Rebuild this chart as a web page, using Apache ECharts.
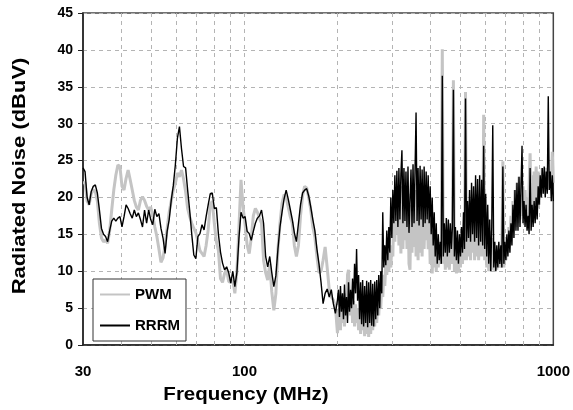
<!DOCTYPE html>
<html>
<head>
<meta charset="utf-8">
<script src="https://cdn.jsdelivr.net/npm/echarts@6/dist/echarts.min.js"></script>
<style>
  html, body { margin: 0; padding: 0; background: #fff; }
  #chart { width: 573px; height: 410px; }
</style>
</head>
<body>
<div id="chart"></div>
<script>
// receiver sweep is log spaced, finer above 200 MHz
const bandEdges = [30, 200, 300, 1000];
const xTickLabels = [30, 100, 1000];
const gridFreqs = [40, 50, 60, 70, 80, 90, 100, 200, 300, 400, 500, 600, 700, 800, 900];

// PWM (grey), dBuV
const pwmBand1 = [
  22.0, 22.0, 19.5, 19.0, 20.5, 21.0, 20.8, 19.5, 16.5, 14.5,
  14.0, 14.2, 13.8, 15.5, 18.3, 21.0, 23.0, 24.4, 24.2, 21.5,
  21.0, 22.6, 23.7, 22.4, 21.0, 19.6, 18.7, 18.3, 19.6, 20.1,
  19.6, 18.8, 18.3, 18.7, 17.5, 16.0, 14.7, 13.0, 11.2, 11.8,
  13.5, 15.8, 18.0, 19.5, 21.0, 21.9, 23.3, 22.8, 23.7, 22.5,
  20.8, 18.5, 17.4, 16.5, 15.8, 15.2, 14.0, 12.8, 12.4, 12.0,
  13.5, 15.6, 19.0, 19.5, 16.5, 14.0, 12.8, 9.0, 8.5, 9.7,
  10.2, 8.6, 8.5, 8.8, 7.0, 10.0, 16.0, 22.4, 18.7, 16.3,
  13.5, 12.4, 14.5, 17.5, 18.5, 18.0, 17.2, 16.5, 11.5, 9.8,
  8.8, 11.0, 7.2, 4.7, 7.0, 13.0, 16.5, 19.2, 20.4, 20.0,
  18.7, 17.4, 16.5, 13.5, 12.0, 13.5, 17.5, 20.2, 21.5, 21.3,
  20.0, 18.3, 16.0, 14.6, 12.0, 9.8, 10.0, 11.5, 13.3, 10.5,
  7.5, 6.5, 6.1, 5.2, 1.6
];
const pwmBand2 = [
  3.5, 5.0, 2.0, 6.0, 3.0, 5.5, 2.5, 7.0, 4.0, 9.5,
  10.2, 6.5, 4.0, 6.5, 3.0, 6.0, 2.5, 5.5, 3.0, 5.0,
  2.0, 4.5, 1.5, 4.8, 2.0, 4.5, 1.2, 4.7, 1.5, 4.0,
  1.1, 4.5, 1.5, 5.0, 2.0, 4.5, 2.5, 5.5, 3.0, 6.0,
  4.0, 7.0, 5.0, 8.0, 6.5, 9.5, 8.0, 11.0, 9.5, 12.0,
  10.0, 12.5, 10.5, 13.5
];
const pwmBand3 = [
  12.0, 19.0, 14.0, 20.5, 15.0, 21.0, 13.5, 20.0, 12.4, 21.5,
  13.0, 20.0, 14.2, 19.5, 13.0, 20.5, 11.0, 10.2, 19.0, 12.5,
  20.5, 13.3, 21.0, 12.0, 20.0, 11.5, 20.5, 12.5, 19.5, 12.0,
  20.0, 13.0, 19.0, 14.2, 18.5, 13.0, 17.0, 11.0, 15.5, 9.7,
  14.5, 10.5, 13.5, 10.0, 13.0, 10.5, 13.5, 11.0, 13.0, 40.1,
  11.0, 15.0, 10.2, 15.5, 10.5, 14.5, 10.2, 15.0, 11.0, 14.0,
  35.9, 10.0, 14.5, 9.7, 13.5, 9.8, 13.0, 10.5, 14.0, 11.0,
  16.0, 11.5, 34.3, 11.5, 17.5, 12.0, 19.0, 11.5, 19.5, 12.5,
  20.0, 11.5, 20.0, 12.0, 19.5, 11.5, 20.0, 12.0, 19.0, 12.0,
  31.2, 11.5, 18.0, 10.5, 17.0, 10.0, 15.5, 10.0, 14.5, 10.2,
  13.5, 10.0, 13.0, 10.2, 12.5, 10.5, 13.0, 10.5, 12.5, 24.9,
  10.5, 13.5, 11.5, 14.5, 12.5, 16.0, 13.5, 17.5, 14.5, 19.5,
  15.5, 21.0, 16.0, 22.0, 16.5, 22.8, 17.0, 22.0, 17.5, 21.5,
  18.0, 21.0, 17.5, 20.0, 17.0, 21.5, 26.0, 18.0, 23.0, 18.5,
  23.5, 19.0, 24.2, 18.5, 23.5, 19.0, 23.0, 20.0, 24.0, 20.5,
  23.5, 21.0, 24.0, 21.0, 23.0, 21.5, 23.5, 22.0, 26.2, 22.0
];

// RRRM (black), dBuV
const rrrmBand1 = [
  24.0, 23.5, 20.0, 19.0, 20.8, 21.5, 21.7, 20.6, 18.3, 15.8,
  15.0, 14.7, 14.0, 15.5, 16.8, 17.2, 16.8, 17.2, 17.4, 16.0,
  17.4, 19.0, 18.5, 17.8, 17.2, 18.3, 17.4, 17.9, 17.0, 16.0,
  18.3, 16.5, 18.3, 17.0, 16.3, 18.4, 17.4, 17.8, 15.8, 14.5,
  12.4, 15.4, 17.0, 19.6, 21.6, 24.4, 28.0, 29.6, 26.6, 24.2,
  24.0, 21.0, 18.2, 15.0, 12.2, 11.7, 14.7, 15.1, 16.3, 15.6,
  17.4, 19.0, 20.5, 20.6, 18.5, 18.6, 15.0, 12.6, 11.1, 10.2,
  10.6, 9.8, 8.4, 10.0, 7.9, 9.8, 14.5, 18.0, 17.2, 17.4,
  15.4, 15.1, 14.2, 15.4, 16.5, 17.2, 17.5, 18.3, 16.5, 12.0,
  10.6, 12.0, 9.8, 7.9, 9.4, 13.0, 16.0, 18.0, 19.8, 21.0,
  19.8, 18.4, 17.0, 15.2, 14.0, 16.5, 19.0, 20.6, 21.0, 21.2,
  20.2, 18.7, 17.0, 15.5, 13.0, 11.0, 8.5, 5.6, 7.0, 7.6,
  6.5, 7.5, 5.6, 4.3, 6.1
];
const rrrmBand2 = [
  7.5, 3.8, 8.0, 4.5, 7.0, 3.5, 8.2, 4.0, 6.5, 3.0,
  8.5, 4.5, 7.5, 5.0, 9.0, 5.5, 11.0, 7.0, 13.0, 6.0,
  9.5, 3.5, 8.5, 2.8, 8.8, 2.5, 8.0, 3.0, 8.7, 2.4,
  8.5, 3.0, 8.8, 2.6, 8.3, 2.5, 8.6, 3.5, 8.8, 4.0,
  9.5, 5.0, 10.0, 7.0, 18.0, 10.5, 13.5, 10.8, 15.5, 11.5,
  16.0, 12.5, 20.0, 14.5
];
const rrrmBand3 = [
  21.0, 16.5, 23.0, 16.8, 23.6, 16.0, 24.0, 17.0, 23.2, 26.4,
  16.5, 24.0, 16.8, 23.5, 16.0, 24.2, 15.2, 15.0, 23.8, 16.0,
  24.5, 16.5, 23.6, 31.5, 16.8, 24.0, 16.2, 24.3, 17.0, 23.8,
  16.0, 24.2, 16.5, 23.5, 17.0, 23.0, 16.5, 21.5, 15.0, 20.0,
  13.5, 18.0, 12.0, 16.5, 11.0, 15.0, 11.5, 14.0, 11.0, 36.5,
  12.0, 16.5, 12.5, 17.2, 12.0, 17.0, 12.5, 16.5, 13.0, 16.0,
  34.6, 12.0, 16.0, 11.5, 15.5, 11.0, 15.0, 12.0, 16.0, 12.5,
  18.0, 13.0, 33.4, 14.0, 19.5, 14.5, 21.0, 14.0, 22.0, 15.0,
  21.5, 14.0, 23.0, 14.5, 22.5, 13.5, 23.0, 14.0, 22.4, 13.5,
  27.0, 13.0, 20.5, 12.0, 19.0, 11.0, 17.0, 10.0, 16.0, 29.8,
  10.5, 14.0, 10.0, 13.5, 10.5, 14.0, 11.0, 13.5, 10.5, 24.2,
  11.0, 14.0, 11.5, 15.0, 12.0, 15.5, 12.5, 16.5, 13.5, 19.0,
  14.5, 21.0, 15.5, 22.0, 15.5, 22.8, 16.0, 21.5, 27.0, 16.5,
  19.5, 16.0, 19.0, 15.5, 17.5, 15.0, 24.0, 15.5, 19.0, 16.0,
  19.5, 16.5, 20.0, 17.0, 21.5, 19.0, 23.0, 20.0, 24.0, 20.5,
  24.2, 20.0, 23.5, 20.5, 33.7, 21.0, 23.5, 19.5, 23.0, 19.5
];

// sweep frequencies of one band, log spaced
function bandFreqs(from, to, count, withStart) {
  const steps = withStart ? count - 1 : count;
  const out = [];
  for (let n = 0; n < count; n++) {
    const k = withStart ? n : n + 1;
    out.push(from * Math.pow(to / from, k / steps));
  }
  return out;
}

const freq = [].concat(
  bandFreqs(bandEdges[0], bandEdges[1], pwmBand1.length, true),
  bandFreqs(bandEdges[1], bandEdges[2], pwmBand2.length, false),
  bandFreqs(bandEdges[2], bandEdges[3], pwmBand3.length, false)
);
const pwm = pwmBand1.concat(pwmBand2, pwmBand3);
const rrrm = rrrmBand1.concat(rrrmBand2, rrrmBand3);

const font = 'Liberation Sans, Arial, sans-serif';
const dashed = { color: '#b4b4b4', width: 1, type: [4, 4] };
const titleStyle = { fontFamily: font, fontSize: 18, fontWeight: 'bold', fill: '#000', align: 'center', verticalAlign: 'middle' };

const option = {
  animation: false,
  grid: {
    left: 83,
    right: 18,
    top: 13,
    bottom: 65,
    show: true,
    borderColor: '#444',
    borderWidth: 1.5
  },
  // axis titles are a bit stretched in the original, so drawn as scaled text
  graphic: [
    {
      type: 'text',
      x: 20,
      y: 176,
      rotation: Math.PI / 2,
      scaleX: 1.22,
      silent: true,
      style: Object.assign({ text: 'Radiated Noise (dBuV)' }, titleStyle)
    },
    {
      type: 'text',
      x: 246,
      y: 395,
      scaleX: 1.14,
      silent: true,
      style: Object.assign({ text: 'Frequency (MHz)' }, titleStyle)
    }
  ],
  legend: {
    data: ['PWM', 'RRRM'],
    orient: 'vertical',
    left: 93,
    top: 279,
    padding: [8, 6, 8, 6],
    itemWidth: 30,
    itemHeight: 14,
    itemGap: 16,
    backgroundColor: '#fff',
    borderColor: '#333',
    borderWidth: 1,
    itemStyle: { color: 'rgba(0,0,0,0)', borderWidth: 0 },
    textStyle: { fontFamily: font, fontSize: 15, fontWeight: 'bold', color: '#000' }
  },
  xAxis: {
    type: 'log',
    logBase: 10,
    min: bandEdges[0],
    max: bandEdges[3],
    axisLine: { lineStyle: { color: '#222', width: 1.5 } },
    axisTick: { show: false },
    splitLine: { show: false },
    axisLabel: {
      margin: 19,
      fontFamily: font,
      fontSize: 15,
      fontWeight: 'bold',
      color: '#000',
      formatter: v => {
        const r = Math.round(v);
        return xTickLabels.indexOf(r) >= 0 ? String(r) : '';
      }
    }
  },
  yAxis: {
    type: 'value',
    min: 0,
    max: 45,
    interval: 5,
    axisLine: { show: true, lineStyle: { color: '#222', width: 1.5 } },
    axisTick: { show: true, length: 5, lineStyle: { color: '#222' } },
    axisLabel: { margin: 10, fontFamily: font, fontSize: 14, fontWeight: 'bold', color: '#000' },
    splitLine: { lineStyle: dashed }
  },
  series: [
    {
      name: 'grid',
      type: 'line',
      data: [],
      silent: true,
      markLine: {
        silent: true,
        z: 1,
        symbol: ['none', 'none'],
        label: { show: false },
        lineStyle: dashed,
        emphasis: { disabled: true },
        data: gridFreqs.map(f => ({ xAxis: f }))
      }
    },
    {
      name: 'PWM',
      type: 'line',
      data: freq.map((f, i) => [f, pwm[i]]),
      symbol: 'none',
      sampling: null,
      lineStyle: { color: '#c4c4c4', width: 3 },
      itemStyle: { color: '#c4c4c4' },
      z: 2
    },
    {
      name: 'RRRM',
      type: 'line',
      data: freq.map((f, i) => [f, rrrm[i]]),
      symbol: 'none',
      sampling: null,
      lineStyle: { color: '#000', width: 1.4 },
      itemStyle: { color: '#000' },
      z: 3
    }
  ]
};

const chart = echarts.init(document.getElementById('chart'), null, { renderer: 'canvas' });
chart.setOption(option);
</script>
</body>
</html>
